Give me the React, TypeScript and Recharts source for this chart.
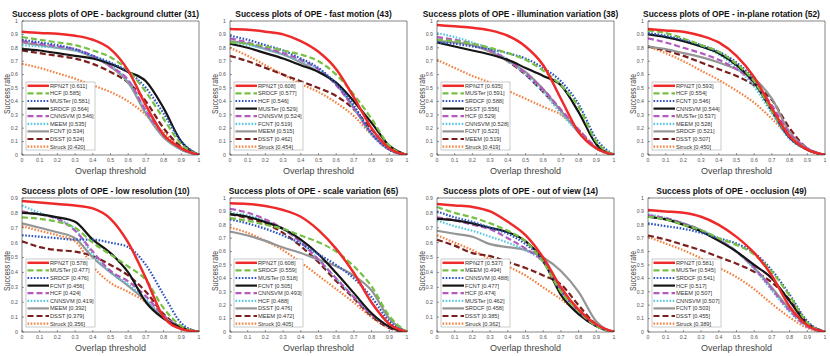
import { LineChart, Line, XAxis, YAxis, ReferenceLine } from "recharts";

// overlap thresholds sampled on the x axis
const thresholds = [0, 0.1, 0.2, 0.3, 0.4, 0.5, 0.6, 0.7, 0.8, 0.9, 1];
const yTicksFull = [0, 0.1, 0.2, 0.3, 0.4, 0.5, 0.6, 0.7, 0.8, 0.9, 1];
const yTicksShort = [0, 0.1, 0.2, 0.3, 0.4, 0.5, 0.6, 0.7, 0.8, 0.9];

// background clutter (31)
const bcTrackers = ["RPN2T", "HCF", "MUSTer", "SRDCF", "CNNSVM", "MEEM", "FCNT", "DSST", "Struck"];
const bcScores = ["0.611", "0.585", "0.581", "0.564", "0.546", "0.535", "0.534", "0.524", "0.420"];
const bcSuccess = [
  [0.92, 0.91, 0.905, 0.89, 0.86, 0.79, 0.63, 0.37, 0.15, 0.05, 0],
  [0.88, 0.86, 0.84, 0.82, 0.78, 0.73, 0.63, 0.47, 0.27, 0.08, 0],
  [0.86, 0.84, 0.82, 0.79, 0.74, 0.69, 0.62, 0.5, 0.31, 0.1, 0],
  [0.79, 0.78, 0.76, 0.74, 0.72, 0.68, 0.62, 0.55, 0.35, 0.1, 0],
  [0.85, 0.83, 0.81, 0.79, 0.74, 0.66, 0.56, 0.33, 0.15, 0.05, 0],
  [0.82, 0.81, 0.8, 0.78, 0.74, 0.67, 0.55, 0.33, 0.14, 0.04, 0],
  [0.84, 0.82, 0.8, 0.78, 0.73, 0.66, 0.54, 0.31, 0.13, 0.04, 0],
  [0.78, 0.76, 0.74, 0.72, 0.68, 0.62, 0.54, 0.4, 0.2, 0.06, 0],
  [0.68, 0.65, 0.61, 0.57, 0.52, 0.47, 0.4, 0.3, 0.17, 0.06, 0],
];

// fast motion (43)
const fmTrackers = ["RPN2T", "SRDCF", "HCF", "MUSTer", "CNNSVM", "FCNT", "MEEM", "DSST", "Struck"];
const fmScores = ["0.608", "0.577", "0.546", "0.529", "0.524", "0.519", "0.515", "0.462", "0.454"];
const fmSuccess = [
  [0.94, 0.935, 0.92, 0.9, 0.85, 0.77, 0.64, 0.43, 0.2, 0.05, 0],
  [0.84, 0.83, 0.81, 0.78, 0.75, 0.7, 0.6, 0.45, 0.27, 0.07, 0],
  [0.89, 0.86, 0.82, 0.78, 0.72, 0.65, 0.53, 0.37, 0.16, 0.04, 0],
  [0.83, 0.8, 0.76, 0.72, 0.67, 0.62, 0.54, 0.4, 0.24, 0.07, 0],
  [0.87, 0.84, 0.8, 0.76, 0.71, 0.64, 0.52, 0.35, 0.16, 0.04, 0],
  [0.84, 0.82, 0.79, 0.75, 0.7, 0.64, 0.53, 0.35, 0.15, 0.04, 0],
  [0.85, 0.83, 0.79, 0.75, 0.69, 0.62, 0.53, 0.35, 0.16, 0.04, 0],
  [0.74, 0.7, 0.65, 0.6, 0.55, 0.5, 0.44, 0.34, 0.19, 0.05, 0],
  [0.8, 0.74, 0.67, 0.6, 0.53, 0.47, 0.39, 0.29, 0.15, 0.04, 0],
];

// illumination variation (38)
const ivTrackers = ["RPN2T", "MUSTer", "SRDCF", "DSST", "HCF", "CNNSVM", "FCNT", "MEEM", "Struck"];
const ivScores = ["0.635", "0.591", "0.588", "0.556", "0.529", "0.528", "0.523", "0.519", "0.419"];
const ivSuccess = [
  [0.97, 0.96, 0.95, 0.93, 0.89, 0.81, 0.67, 0.42, 0.17, 0.05, 0],
  [0.86, 0.85, 0.83, 0.8, 0.76, 0.71, 0.63, 0.52, 0.36, 0.1, 0],
  [0.84, 0.83, 0.81, 0.79, 0.76, 0.72, 0.65, 0.55, 0.38, 0.12, 0],
  [0.84, 0.81, 0.78, 0.75, 0.71, 0.65, 0.59, 0.52, 0.32, 0.08, 0],
  [0.88, 0.86, 0.83, 0.78, 0.71, 0.61, 0.49, 0.34, 0.19, 0.06, 0],
  [0.91, 0.88, 0.84, 0.79, 0.71, 0.6, 0.47, 0.31, 0.17, 0.05, 0],
  [0.85, 0.84, 0.82, 0.77, 0.7, 0.62, 0.49, 0.33, 0.17, 0.05, 0],
  [0.86, 0.85, 0.82, 0.78, 0.7, 0.6, 0.47, 0.33, 0.18, 0.05, 0],
  [0.71, 0.65, 0.59, 0.54, 0.48, 0.42, 0.36, 0.3, 0.19, 0.05, 0],
];

// in-plane rotation (52)
const irTrackers = ["RPN2T", "HCF", "FCNT", "CNNSVM", "MUSTer", "MEEM", "SRDCF", "DSST", "Struck"];
const irScores = ["0.593", "0.554", "0.546", "0.544", "0.537", "0.528", "0.521", "0.507", "0.450"];
const irSuccess = [
  [0.94, 0.93, 0.92, 0.89, 0.84, 0.74, 0.58, 0.35, 0.14, 0.04, 0],
  [0.93, 0.91, 0.87, 0.82, 0.77, 0.68, 0.55, 0.33, 0.14, 0.04, 0],
  [0.91, 0.89, 0.86, 0.82, 0.77, 0.69, 0.56, 0.33, 0.13, 0.04, 0],
  [0.9, 0.88, 0.85, 0.81, 0.76, 0.67, 0.54, 0.33, 0.13, 0.04, 0],
  [0.87, 0.84, 0.8, 0.76, 0.71, 0.64, 0.54, 0.37, 0.16, 0.05, 0],
  [0.91, 0.88, 0.85, 0.81, 0.75, 0.65, 0.51, 0.31, 0.12, 0.04, 0],
  [0.81, 0.79, 0.76, 0.73, 0.69, 0.64, 0.57, 0.42, 0.17, 0.05, 0],
  [0.81, 0.78, 0.74, 0.69, 0.64, 0.59, 0.52, 0.41, 0.2, 0.05, 0],
  [0.81, 0.76, 0.7, 0.63, 0.56, 0.48, 0.39, 0.27, 0.14, 0.04, 0],
];

// low resolution (10)
const lrTrackers = ["RPN2T", "MUSTer", "SRDCF", "FCNT", "HCF", "CNNSVM", "MEEM", "DSST", "Struck"];
const lrScores = ["0.578", "0.477", "0.476", "0.456", "0.424", "0.419", "0.392", "0.379", "0.356"];
const lrSuccess = [
  [0.88, 0.87, 0.86, 0.85, 0.83, 0.76, 0.6, 0.36, 0.1, 0.02, 0],
  [0.77, 0.76, 0.74, 0.7, 0.6, 0.52, 0.44, 0.35, 0.16, 0.04, 0],
  [0.65, 0.64, 0.63, 0.62, 0.62, 0.6, 0.57, 0.45, 0.25, 0.06, 0],
  [0.8, 0.79, 0.77, 0.74, 0.62, 0.53, 0.4, 0.2, 0.09, 0.03, 0],
  [0.81, 0.79, 0.76, 0.68, 0.54, 0.41, 0.34, 0.24, 0.11, 0.03, 0],
  [0.85, 0.8, 0.76, 0.69, 0.52, 0.4, 0.32, 0.22, 0.1, 0.03, 0],
  [0.73, 0.7, 0.67, 0.63, 0.5, 0.4, 0.31, 0.21, 0.1, 0.03, 0],
  [0.61, 0.57, 0.55, 0.54, 0.51, 0.45, 0.38, 0.27, 0.12, 0.03, 0],
  [0.71, 0.68, 0.65, 0.61, 0.44, 0.33, 0.27, 0.2, 0.1, 0.03, 0],
];

// scale variation (65)
const svTrackers = ["RPN2T", "SRDCF", "MUSTer", "FCNT", "CNNSVM", "HCF", "DSST", "MEEM", "Struck"];
const svScores = ["0.608", "0.559", "0.518", "0.505", "0.493", "0.488", "0.476", "0.472", "0.405"];
const svSuccess = [
  [0.96, 0.955, 0.94, 0.91, 0.86, 0.76, 0.62, 0.44, 0.22, 0.06, 0],
  [0.85, 0.83, 0.8, 0.77, 0.72, 0.67, 0.6, 0.49, 0.34, 0.12, 0],
  [0.84, 0.81, 0.77, 0.72, 0.66, 0.58, 0.5, 0.4, 0.26, 0.08, 0],
  [0.88, 0.86, 0.82, 0.77, 0.69, 0.58, 0.44, 0.29, 0.14, 0.04, 0],
  [0.92, 0.89, 0.84, 0.77, 0.67, 0.54, 0.4, 0.26, 0.13, 0.04, 0],
  [0.89, 0.87, 0.83, 0.77, 0.67, 0.54, 0.4, 0.26, 0.13, 0.04, 0],
  [0.75, 0.72, 0.68, 0.63, 0.59, 0.54, 0.49, 0.42, 0.31, 0.1, 0],
  [0.88, 0.85, 0.81, 0.74, 0.64, 0.52, 0.38, 0.25, 0.12, 0.03, 0],
  [0.78, 0.74, 0.68, 0.61, 0.52, 0.42, 0.32, 0.22, 0.11, 0.03, 0],
];

// out of view (14)
const ovTrackers = ["RPN2T", "MEEM", "CNNSVM", "FCNT", "HCF", "MUSTer", "SRDCF", "DSST", "Struck"];
const ovScores = ["0.537", "0.494", "0.488", "0.477", "0.474", "0.462", "0.458", "0.385", "0.362"];
const ovSuccess = [
  [0.86, 0.85, 0.84, 0.81, 0.74, 0.65, 0.5, 0.3, 0.15, 0.05, 0],
  [0.84, 0.8, 0.77, 0.73, 0.68, 0.61, 0.47, 0.27, 0.14, 0.04, 0],
  [0.81, 0.77, 0.74, 0.7, 0.66, 0.59, 0.48, 0.28, 0.14, 0.04, 0],
  [0.76, 0.75, 0.73, 0.7, 0.67, 0.61, 0.48, 0.25, 0.12, 0.04, 0],
  [0.77, 0.75, 0.72, 0.69, 0.63, 0.56, 0.47, 0.28, 0.14, 0.04, 0],
  [0.75, 0.71, 0.68, 0.64, 0.6, 0.55, 0.47, 0.3, 0.14, 0.04, 0],
  [0.68, 0.66, 0.64, 0.59, 0.57, 0.55, 0.5, 0.41, 0.27, 0.07, 0],
  [0.62, 0.58, 0.53, 0.51, 0.47, 0.43, 0.38, 0.32, 0.18, 0.05, 0],
  [0.65, 0.6, 0.55, 0.49, 0.44, 0.38, 0.3, 0.22, 0.13, 0.04, 0],
];

// occlusion (49)
const ocTrackers = ["RPN2T", "MUSTer", "SRDCF", "HCF", "MEEM", "CNNSVM", "FCNT", "DSST", "Struck"];
const ocScores = ["0.581", "0.545", "0.541", "0.517", "0.507", "0.507", "0.503", "0.455", "0.389"];
const ocSuccess = [
  [0.91, 0.9, 0.89, 0.86, 0.8, 0.71, 0.59, 0.42, 0.19, 0.05, 0],
  [0.86, 0.84, 0.8, 0.76, 0.7, 0.65, 0.58, 0.45, 0.27, 0.07, 0],
  [0.81, 0.79, 0.77, 0.74, 0.7, 0.66, 0.59, 0.46, 0.28, 0.08, 0],
  [0.86, 0.84, 0.8, 0.75, 0.68, 0.6, 0.5, 0.4, 0.23, 0.06, 0],
  [0.87, 0.85, 0.81, 0.76, 0.69, 0.6, 0.48, 0.32, 0.16, 0.04, 0],
  [0.88, 0.85, 0.81, 0.76, 0.69, 0.6, 0.47, 0.31, 0.15, 0.04, 0],
  [0.86, 0.84, 0.81, 0.76, 0.69, 0.6, 0.48, 0.33, 0.17, 0.05, 0],
  [0.72, 0.69, 0.65, 0.61, 0.56, 0.51, 0.45, 0.37, 0.24, 0.07, 0],
  [0.71, 0.66, 0.61, 0.55, 0.48, 0.41, 0.32, 0.21, 0.11, 0.03, 0],
];

// line look per legend slot (the same in every panel)
const slotStyles = [
  { color: "#ee2a2a", dash: undefined, width: 2.5 },
  { color: "#76c043", dash: "6 3", width: 2.2 },
  { color: "#2b56c0", dash: "1.6 1.6", width: 2.2 },
  { color: "#151515", dash: undefined, width: 2.2 },
  { color: "#b459bd", dash: "6 3", width: 2.2 },
  { color: "#58c7df", dash: "1.6 1.6", width: 2.2 },
  { color: "#959595", dash: undefined, width: 2.2 },
  { color: "#7b1e1e", dash: "6 3", width: 2.2 },
  { color: "#f5813f", dash: "1.6 1.6", width: 2.2 },
];

const panels = [
  { title: "Success plots of OPE - background clutter (31)", trackers: bcTrackers, scores: bcScores, success: bcSuccess, ymax: 1 },
  { title: "Success plots of OPE - fast motion (43)", trackers: fmTrackers, scores: fmScores, success: fmSuccess, ymax: 1 },
  { title: "Success plots of OPE - illumination variation (38)", trackers: ivTrackers, scores: ivScores, success: ivSuccess, ymax: 1 },
  { title: "Success plots of OPE - in-plane rotation (52)", trackers: irTrackers, scores: irScores, success: irSuccess, ymax: 1 },
  { title: "Success plots of OPE - low resolution (10)", trackers: lrTrackers, scores: lrScores, success: lrSuccess, ymax: 0.9 },
  { title: "Success plots of OPE - scale variation (65)", trackers: svTrackers, scores: svScores, success: svSuccess, ymax: 1 },
  { title: "Success plots of OPE - out of view (14)", trackers: ovTrackers, scores: ovScores, success: ovSuccess, ymax: 0.9 },
  { title: "Success plots of OPE - occlusion (49)", trackers: ocTrackers, scores: ocScores, success: ocSuccess, ymax: 1 },
];

const FONT = "'Liberation Sans', Arial, Helvetica, sans-serif";
const PLOT_W = 177;
const PLOT_H = 134;
const ML = 24;
const MT = 4;
const MR = 4;
const MB = 14;
const colLeft = [22, 230, 437, 648];
const rowTop = [21, 198];
const LEG_W = 69;
const LEG_H = 68;

function Panel({ p, left, top }: { p: any; left: number; top: number }) {
  const rows = thresholds.map((t, i) => {
    const r: any = { t };
    p.success.forEach((s: number[], k: number) => (r["s" + k] = s[i]));
    return r;
  });
  const order = p.success.map((_: any, k: number) => k).reverse();
  return (
    <div style={{ position: "absolute", left: left - ML, top: top - MT }}>
      <LineChart
        width={ML + PLOT_W + MR}
        height={MT + PLOT_H + MB}
        data={rows}
        margin={{ top: MT, right: MR, bottom: 0, left: 0 }}
      >
        <XAxis
          dataKey="t"
          type="number"
          domain={[0, 1]}
          ticks={thresholds}
          interval={0}
          height={MB}
          tickSize={-2}
          tickMargin={5}
          tick={{ fontSize: 5.2, fill: "#555", fontFamily: FONT }}
          tickLine={{ stroke: "#333", strokeWidth: 0.5 }}
          axisLine={{ stroke: "#333", strokeWidth: 0.6 }}
        />
        <YAxis
          type="number"
          domain={[0, p.ymax]}
          ticks={p.ymax === 1 ? yTicksFull : yTicksShort}
          interval={0}
          width={ML}
          allowDataOverflow
          tickSize={-2}
          tickMargin={6}
          tick={{ fontSize: 5.2, fill: "#555", fontFamily: FONT }}
          tickLine={{ stroke: "#333", strokeWidth: 0.5 }}
          axisLine={{ stroke: "#333", strokeWidth: 0.6 }}
        />
        <ReferenceLine y={p.ymax} stroke="#333" strokeWidth={0.6} />
        <ReferenceLine x={1} stroke="#333" strokeWidth={0.6} />
        {order.map((k: number) => (
          <Line
            key={k}
            dataKey={"s" + k}
            type="monotone"
            stroke={slotStyles[k].color}
            strokeWidth={slotStyles[k].width}
            strokeDasharray={slotStyles[k].dash}
            dot={false}
            activeDot={false}
            isAnimationActive={false}
          />
        ))}
      </LineChart>
    </div>
  );
}

function Labels({ p, left, top }: { p: any; left: number; top: number }) {
  const lx = left + 4;
  const ly = top + PLOT_H - 5 - LEG_H;
  const yc = top + PLOT_H / 2 + 6;
  return (
    <g fontFamily={FONT}>
      <text x={left + PLOT_W / 2 - 5} y={top - 7} textAnchor="middle" dominantBaseline="central" fontSize={8.4} fontWeight="bold" fill="#111">
        {p.title}
      </text>
      <text x={left + PLOT_W / 2} y={top + PLOT_H + 16} textAnchor="middle" dominantBaseline="central" fontSize={9} fill="#444">
        Overlap threshold
      </text>
      <text
        x={left - 15}
        y={yc}
        textAnchor="middle"
        dominantBaseline="central"
        fontSize={8.6}
        textLength={40}
        lengthAdjust="spacingAndGlyphs"
        fill="#444"
        transform={`rotate(-90 ${left - 15} ${yc})`}
      >
        Success rate
      </text>
      <rect x={lx} y={ly} width={LEG_W} height={LEG_H} fill="#fff" stroke="#999" strokeWidth={0.5} />
      {p.trackers.map((name: string, k: number) => {
        const cy = ly + 3.8 + k * 7.6;
        const st = slotStyles[k];
        return (
          <g key={k}>
            <line x1={lx + 1.5} x2={lx + 23} y1={cy} y2={cy} stroke={st.color} strokeWidth={st.width} strokeDasharray={st.dash} />
            <text x={lx + 24} y={cy} dominantBaseline="central" fontSize={5.7} fill="#333">
              {`${name} [${p.scores[k]}]`}
            </text>
          </g>
        );
      })}
    </g>
  );
}

export default function App() {
  return (
    <div style={{ position: "absolute", left: 0, top: 0, width: 830, height: 356, background: "#fff" }}>
      {panels.map((p, i) => (
        <Panel key={i} p={p} left={colLeft[i % 4]} top={rowTop[Math.floor(i / 4)]} />
      ))}
      <svg width={830} height={356} style={{ position: "absolute", left: 0, top: 0, pointerEvents: "none" }}>
        {panels.map((p, i) => (
          <Labels key={i} p={p} left={colLeft[i % 4]} top={rowTop[Math.floor(i / 4)]} />
        ))}
      </svg>
    </div>
  );
}
